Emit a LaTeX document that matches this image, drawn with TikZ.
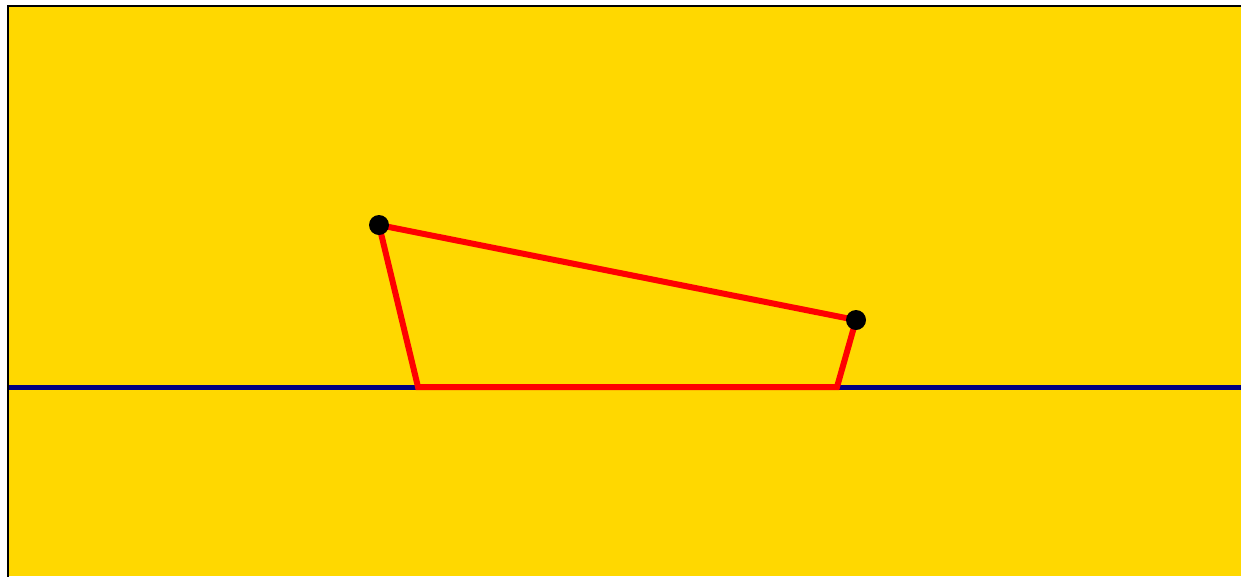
\documentclass[tikz,border=0pt]{standalone}
\begin{document}
\begin{tikzpicture}[x=0.02cm,y=-0.02cm,
  dot/.style={circle,fill=black,inner sep=0pt,minimum size=0.40cm},
  redline/.style={draw=red,line width=0.12cm,line join=miter},
  baseline/.style={draw=blue!50!black,line width=0.10cm}]
\definecolor{bg}{HTML}{FFD800}
\definecolor{navy}{HTML}{000080}
\useasboundingbox (0,0) rectangle (1241,576);
\fill[bg] (8,6) rectangle (1241,576);
\draw[line width=0.04cm] (8,580) -- (8,6) -- (1245,6);
\coordinate (L) at (9,387);
\coordinate (R) at (1241,387);
\draw[draw=navy,line width=0.10cm] (L) -- (R);
\coordinate (A) at (379,225);
\coordinate (B) at (856,320);
\coordinate (C) at (837,387);
\coordinate (D) at (418,387);
\draw[redline] (A) -- (B) -- (C) -- (D) -- cycle;
\node[dot] (p) at (A) {};
\node[dot] (q) at (B) {};
\end{tikzpicture}
\end{document}
